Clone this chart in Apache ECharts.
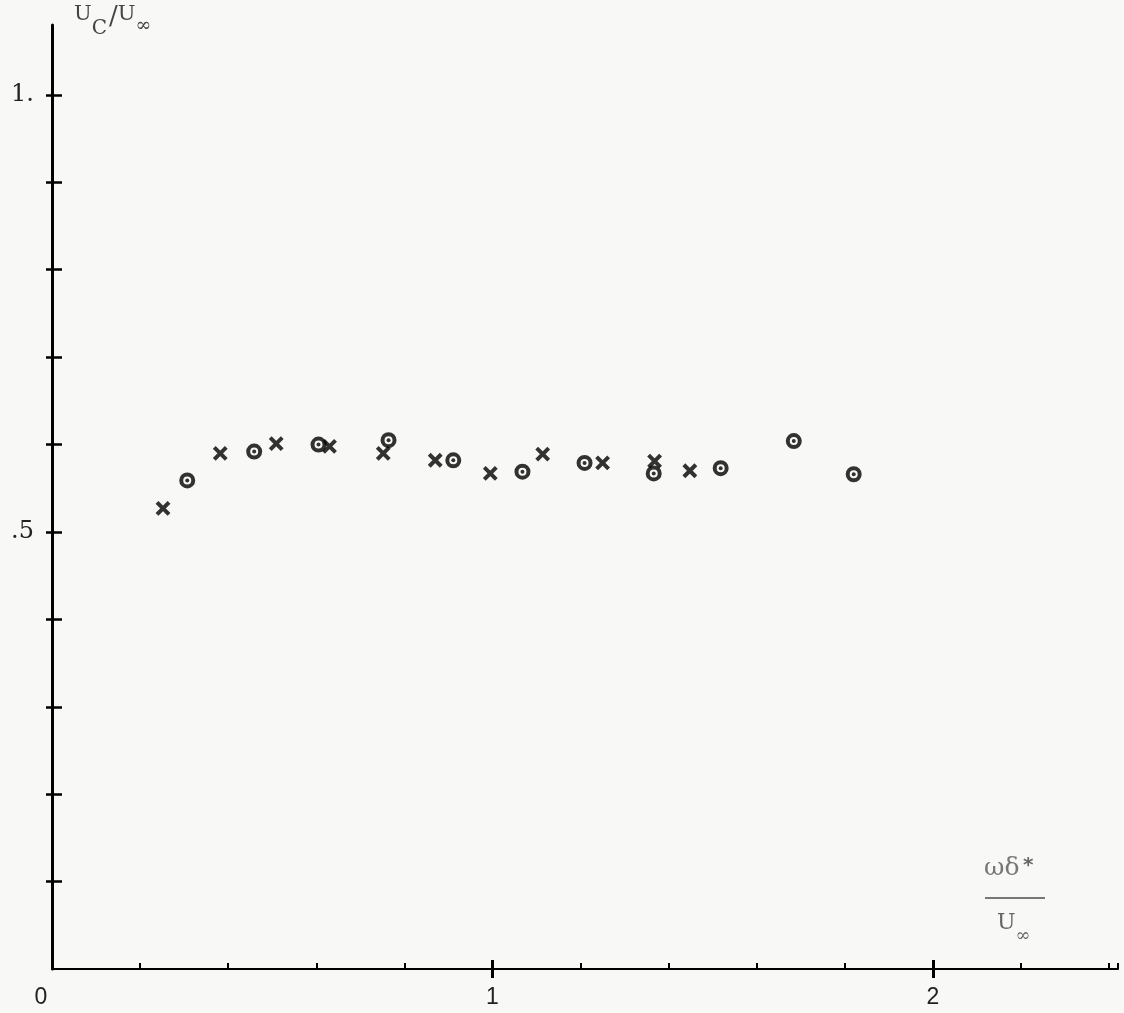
<!DOCTYPE html>
<html>
<head>
<meta charset="utf-8">
<style>
  html, body { margin: 0; padding: 0; background: #f8f8f6; }
  #chart { width: 1124px; height: 1013px; }
</style>
<script src="https://cdn.jsdelivr.net/npm/echarts@6/dist/echarts.min.js"></script>
</head>
<body>
<div id="chart"></div>
<script>
// Convection velocity Uc/U∞ against dimensionless frequency ωδ*/U∞
const crossX = [0.252, 0.382, 0.509, 0.630, 0.752, 0.870, 0.995, 1.114, 1.250, 1.368, 1.448];
const crossY = [0.527, 0.590, 0.601, 0.598, 0.590, 0.582, 0.567, 0.589, 0.579, 0.581, 0.570];
const circleX = [0.307, 0.459, 0.605, 0.764, 0.911, 1.068, 1.209, 1.366, 1.518, 1.684, 1.820];
const circleY = [0.559, 0.592, 0.600, 0.605, 0.582, 0.569, 0.579, 0.567, 0.573, 0.604, 0.566];

const xLabelValues = [0, 1, 2];
const yLabelText = { '1': '1.', '0.5': '.5' };

const crossData = crossX.map((x, i) => [x, crossY[i]]);
const circleData = circleX.map((x, i) => [x, circleY[i]]);

const yTickValues = [];
for (let k = 1; k <= 10; k++) yTickValues.push(k / 10);

const ink = '#000';
const paper = '#f8f8f6';
const serif = '"DejaVu Serif", "Liberation Serif", serif';
const sans = '"Liberation Sans", Arial, sans-serif';

const chart = echarts.init(document.getElementById('chart'));
chart.setOption({
  backgroundColor: paper,
  animation: false,
  grid: { left: 52, right: 6, top: 25, bottom: 44 },
  xAxis: [
    {
      type: 'value', min: 0, max: 2.42, interval: 0.2,
      axisLine: { lineStyle: { color: ink, width: 2 } },
      axisTick: { inside: true, length: 6, lineStyle: { color: ink, width: 2 } },
      splitLine: { show: false },
      axisLabel: {
        customValues: xLabelValues,
        margin: 17,
        fontFamily: sans,
        fontSize: 23,
        color: '#222',
        formatter: v => v === 0 ? '{z|0}' : String(Math.round(v)),
        rich: { z: { fontSize: 23, color: '#222', padding: [0, 22, 0, 0], fontFamily: sans } }
      }
    },
    {
      type: 'value', min: 0, max: 2.42, interval: 1, position: 'bottom',
      axisLine: { show: false },
      axisTick: { customValues: [1, 2], inside: false, length: 9, lineStyle: { color: ink, width: 3 } },
      axisLabel: { show: false },
      splitLine: { show: false }
    },
    {
      type: 'value', min: 0, max: 2.42, interval: 1, position: 'bottom',
      axisLine: { show: false },
      axisTick: { customValues: [1, 2], inside: true, length: 9, lineStyle: { color: ink, width: 3 } },
      axisLabel: { show: false },
      splitLine: { show: false }
    }
  ],
  yAxis: [
    {
      type: 'value', min: 0, max: 1.08, interval: 0.1,
      axisLine: { lineStyle: { color: ink, width: 3 } },
      axisTick: { customValues: yTickValues, inside: false, length: 6, lineStyle: { color: ink, width: 2.5 } },
      splitLine: { show: false },
      axisLabel: {
        customValues: [0.5, 1],
        margin: 18,
        fontFamily: serif,
        fontSize: 24,
        color: '#222',
        formatter: v => yLabelText[String(Math.round(v * 10) / 10)] || ''
      }
    },
    {
      type: 'value', min: 0, max: 1.08, interval: 0.1, position: 'left',
      axisLine: { show: false },
      axisTick: { customValues: yTickValues, inside: true, length: 10, lineStyle: { color: ink, width: 2.5 } },
      axisLabel: { show: false },
      splitLine: { show: false }
    }
  ],
  graphic: [
    {
      type: 'text', left: 74, top: 4,
      style: {
        text: '{u|U}{c|C}{s|/}{u|U}{i|∞}',
        rich: {
          u: { fontFamily: serif, fontSize: 21, fill: '#444', padding: [0, 0, 12, 0] },
          c: { fontFamily: serif, fontSize: 20, fill: '#444', padding: [16, 2, 0, 0] },
          s: { fontFamily: serif, fontSize: 26, fill: '#444', padding: [0, 0, 6, 0] },
          i: { fontFamily: serif, fontSize: 19, fill: '#444', padding: [12, 0, 0, 0] }
        }
      }
    },
    {
      type: 'text', left: 984, top: 856,
      style: {
        text: 'ωδ',
        font: '25px "DejaVu Serif", serif',
        fill: '#777'
      }
    },
    {
      type: 'text', left: 1023, top: 856,
      style: { text: '*', font: 'bold 20px "DejaVu Sans", sans-serif', fill: '#666' }
    },
    {
      type: 'line', shape: { x1: 985, y1: 898, x2: 1045, y2: 898 },
      style: { stroke: '#777', lineWidth: 2 }
    },
    {
      type: 'text', left: 997, top: 912,
      style: {
        text: '{u|U}{i|∞}',
        rich: {
          u: { fontFamily: serif, fontSize: 22, fill: '#666', padding: [0, 0, 8, 0] },
          i: { fontFamily: serif, fontSize: 18, fill: '#666', padding: [18, 0, 0, 0] }
        }
      }
    }
  ],
  series: [
    {
      name: 'cross', type: 'scatter', data: crossData,
      symbol: 'path://M0,0L10,10M10,0L0,10',
      symbolSize: 12,
      itemStyle: { color: 'none', borderColor: ink, borderWidth: 4 },
      z: 3
    },
    {
      name: 'circle', type: 'scatter', data: circleData,
      symbol: 'circle', symbolSize: 12,
      itemStyle: { color: paper, borderColor: ink, borderWidth: 4 },
      z: 4
    },
    {
      name: 'circle-centre', type: 'scatter', data: circleData,
      symbol: 'circle', symbolSize: 4,
      itemStyle: { color: ink },
      z: 5
    }
  ]
});
</script>
</body>
</html>
